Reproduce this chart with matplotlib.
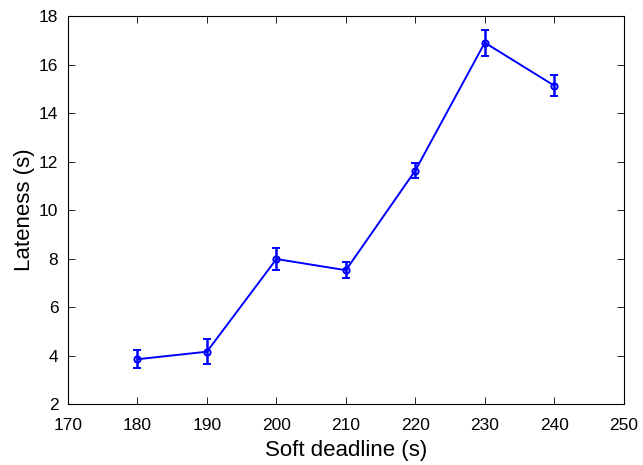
import matplotlib
matplotlib.use("Agg")
import matplotlib.pyplot as plt

# soft deadline (s) vs mean lateness (s) with error bars
deadlines = [180, 190, 200, 210, 220, 230, 240]
lateness = [3.85, 4.16, 7.98, 7.52, 11.63, 16.9, 15.13]
lateness_err = [0.36, 0.52, 0.45, 0.33, 0.3, 0.53, 0.44]

x_ticks = [170, 180, 190, 200, 210, 220, 230, 240, 250]
y_ticks = [2, 4, 6, 8, 10, 12, 14, 16, 18]

plt.rcParams["font.family"] = ["Liberation Sans", "DejaVu Sans"]

fig = plt.figure(figsize=(6.43, 4.65), dpi=100)
ax = fig.add_axes([0.1058, 0.131, 0.8642, 0.8346])

ax.errorbar(
    deadlines, lateness, yerr=lateness_err,
    color="blue", linewidth=1.4, marker="o", markersize=4.5,
    markerfacecolor="none", markeredgewidth=1.4,
    elinewidth=1.8, capsize=3, capthick=1.8,
)

ax.set_xlim(170, 250)
ax.set_ylim(2, 18)
ax.set_xticks(x_ticks)
ax.set_yticks(y_ticks)
ax.tick_params(direction="in", top=True, right=True, length=5, width=0.6,
               labelsize=12.5)
ax.tick_params(axis="x", pad=10)
ax.tick_params(axis="y", pad=7)
for s in ax.spines.values():
    s.set_linewidth(0.8)

ax.set_xlabel("Soft deadline (s)", fontsize=16, labelpad=5)
ax.set_ylabel("Lateness (s)", fontsize=16, labelpad=3)

fig.savefig("out.png", dpi=100)
